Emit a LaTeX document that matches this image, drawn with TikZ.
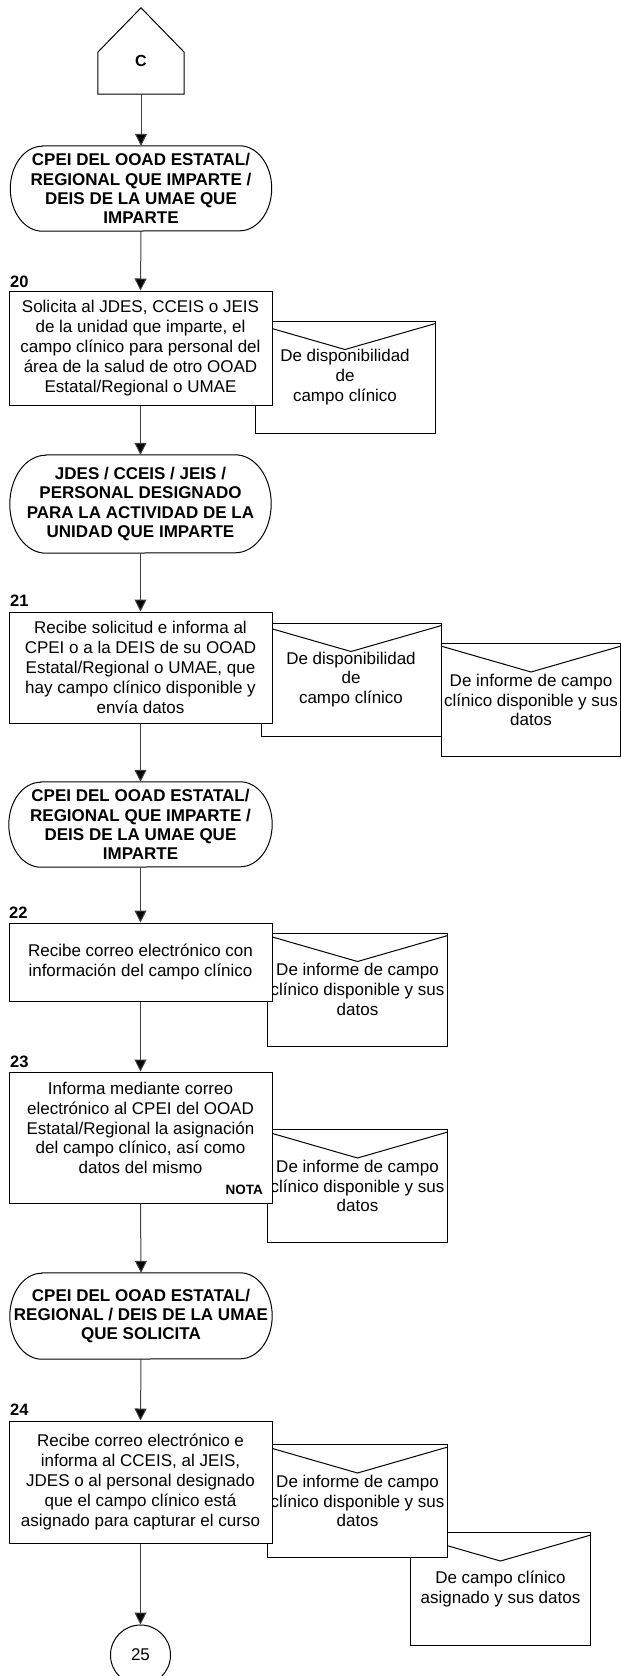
\documentclass[tikz,border=0pt]{standalone}
\usepackage{fontspec}
\setmainfont{Liberation Sans}
\usetikzlibrary{calc,arrows.meta,backgrounds}

\tikzset{
  base/.style={font=\fontsize{17}{19.8}\selectfont, align=center, inner sep=0pt},
  outline/.style={line width=1pt, draw=black},
  procbox/.style={base, outline, fill=white, minimum width=263pt, minimum height=#1},
  envbox/.style={base, outline, fill=white, minimum width=179.5pt, minimum height=113pt},
  termtext/.style={base, font=\bfseries\fontsize{17}{19.3}\selectfont, minimum width=#1},
  steplabel/.style={font=\bfseries\fontsize{16.5}{16.5}\selectfont, anchor=west, inner sep=0pt},
  flow/.style={line width=1pt, draw=black!75, -{Triangle[length=12pt,width=12pt,fill=black]}},
}

% stadium outline with elliptical ends round a named node
\newcommand\termoutline[3]{%
  \draw[outline] ($(#1.north west)+(#2,0)$) -- ($(#1.north east)+(-#2,0)$)
    arc[start angle=90,end angle=-90,x radius=#2pt,y radius=#3pt]
    -- ($(#1.south west)+(#2,0)$)
    arc[start angle=270,end angle=90,x radius=#2pt,y radius=#3pt] -- cycle;}

% envelope flap of a document node
\newcommand\flap[1]{%
  \draw[outline] ($(#1.north west)+(0,3)$) -- ($(#1.north)+(0,29)$) -- ($(#1.north east)+(0,3)$);}

\begin{document}
\begin{tikzpicture}[x=1pt,y=-1pt]
\useasboundingbox (0,0) rectangle (621,1676);

% ---- off-page connector C ----
\node[minimum width=86pt, minimum height=86pt, inner sep=0pt] (pent) at (141,51) {};
\draw[outline] (pent.south west) -- ($(pent.south west)+(0,-42)$) -- (pent.north)
  -- ($(pent.south east)+(0,-42)$) -- (pent.south east) -- cycle;
\node[font=\bfseries\fontsize{16}{16}\selectfont, inner sep=0pt] (ctext) at (141,61) {C};

% ---- terminal 1 ----
\node[termtext=261pt, minimum height=85pt] (t1) at (141,188.5)
  {CPEI DEL OOAD ESTATAL/\\REGIONAL QUE IMPARTE /\\DEIS DE LA UMAE QUE\\IMPARTE};

% ---- step 20 ----
\node[steplabel] (l20) at (10,282) {20};
\node[envbox, minimum width=180pt, minimum height=112pt] (e1) at (345,377)
  {De disponibilidad\\de\\campo clínico};
\flap{e1}
\node[procbox=114pt] (b20) at (140.5,348)
  {Solicita al JDES, CCEIS o JEIS\\de la unidad que imparte, el\\campo clínico para personal del\\área de la salud de otro OOAD\\Estatal/Regional o UMAE};

% ---- terminal 2 ----
\node[termtext=261pt, minimum height=98pt] (t2) at (140.5,504)
  {JDES / CCEIS / JEIS /\\PERSONAL DESIGNADO\\PARA LA ACTIVIDAD DE LA\\UNIDAD QUE IMPARTE};

% ---- step 21 ----
\node[steplabel] (l21) at (10,601) {21};
\node[envbox] (eB) at (531,700)
  {De informe de campo\\clínico disponible y sus\\datos};
\flap{eB}
\node[envbox, minimum width=180pt] (eA) at (351,679.5)
  {De disponibilidad\\de\\campo clínico};
\flap{eA}
\node[procbox=111pt] (b21) at (140.5,667.5)
  {Recibe solicitud e informa al\\CPEI o a la DEIS de su OOAD\\Estatal/Regional o UMAE, que\\hay campo clínico disponible y\\envía datos};

% ---- terminal 3 ----
\node[termtext=263pt, minimum height=85pt] (t3) at (140.5,824.5)
  {CPEI DEL OOAD ESTATAL/\\REGIONAL QUE IMPARTE /\\DEIS DE LA UMAE QUE\\IMPARTE};

% ---- step 22 ----
\node[steplabel] (l22) at (9,913) {22};
\node[envbox] (eE) at (357.5,989.5)
  {De informe de campo\\clínico disponible y sus\\datos};
\flap{eE}
\node[procbox=78pt] (b22) at (140.5,962)
  {Recibe correo electrónico con\\información del campo clínico};

% ---- step 23 ----
\node[steplabel] (l23) at (10,1062) {23};
\node[envbox] (eF) at (357.5,1186)
  {De informe de campo\\clínico disponible y sus\\datos};
\flap{eF}
\node[procbox=131pt] (b23) at (140.5,1137.5) {};
\node[base] (b23text) at (140.5,1128)
  {Informa mediante correo\\electrónico al CPEI del OOAD\\Estatal/Regional la asignación\\del campo clínico, así como\\datos del mismo};
\node[font=\bfseries\fontsize{13.5}{13.5}\selectfont, anchor=east, inner sep=0pt] (nota) at (263,1190) {NOTA};

% ---- terminal 4 ----
\node[termtext=262pt, minimum height=86pt] (t4) at (141,1316)
  {CPEI DEL OOAD ESTATAL/\\REGIONAL / DEIS DE LA UMAE\\QUE SOLICITA};

% ---- step 24 ----
\node[steplabel] (l24) at (10,1410) {24};
\node[envbox] (eD) at (500.5,1589)
  {De campo clínico\\asignado y sus datos};
\flap{eD}
\node[envbox] (eC) at (357.5,1501)
  {De informe de campo\\clínico disponible y sus\\datos};
\flap{eC}
\node[procbox=122pt] (b24) at (140.5,1482)
  {Recibe correo electrónico e\\informa al CCEIS, al JEIS,\\JDES o al personal designado\\que el campo clínico está\\asignado para capturar el curso};

% ---- connector 25 ----
\node[base, circle, outline, minimum size=60pt] (c25) at (140.5,1655) {25};

% ---- terminal outlines behind their texts ----
\begin{scope}[on background layer]
  \fill[white] (0,0) rectangle (621,1676);
  \termoutline{t1}{32}{42.5}
  \termoutline{t2}{36}{49}
  \termoutline{t3}{32}{42.5}
  \termoutline{t4}{32}{43}
\end{scope}

% ---- flow ----
\draw[flow] (pent.south) -- (t1.north);
\draw[flow] (t1.south) -- (b20.north);
\draw[flow] (b20.south) -- (t2.north);
\draw[flow] (t2.south) -- (b21.north);
\draw[flow] (b21.south) -- (t3.north);
\draw[flow] (t3.south) -- (b22.north);
\draw[flow] (b22.south) -- (b23.north);
\draw[flow] (b23.south) -- (t4.north);
\draw[flow] (t4.south) -- (b24.north);
\draw[flow] (b24.south) -- (c25.north);
\end{tikzpicture}
\end{document}
